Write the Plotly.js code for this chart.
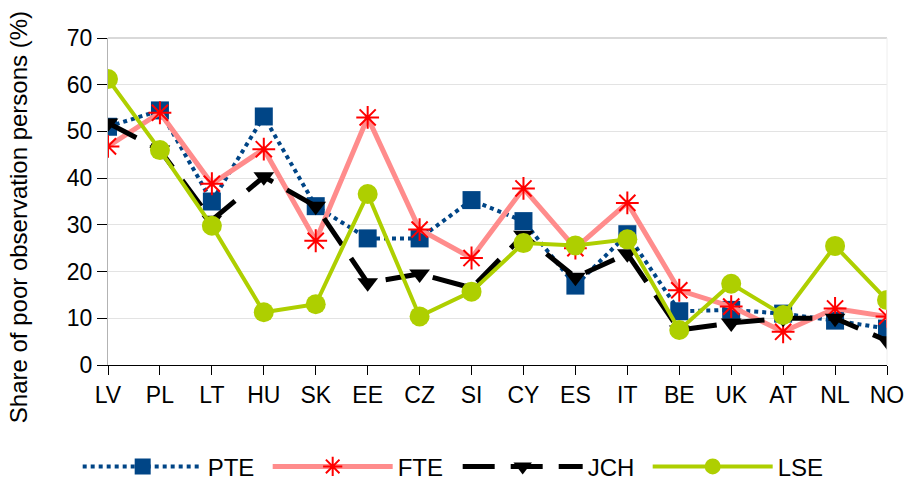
<!DOCTYPE html>
<html>
<head>
<meta charset="utf-8">
<script src="https://cdn.plot.ly/plotly-3.0.1.min.js"></script>
<style>html,body{margin:0;padding:0;background:#fff;}#chart{width:914px;height:494px;}</style>
</head>
<body>
<div id="chart"></div>
<script>
const countries = ["LV","PL","LT","HU","SK","EE","CZ","SI","CY","ES","IT","BE","UK","AT","NL","NO"];
const pte = [51, 54.5, 35, 53.2, 34, 27.1, 27.1, 35.3, 30.8, 17, 28, 11.5, 11.8, 11, 9.5, 7.8];
const fte = [46.8, 54, 38.8, 46.2, 26.6, 53, 29, 22.9, 37.8, 25, 34.7, 16, 12.5, 7.1, 12.1, 10.4];
const jch = [51.8, 46, 31, 40.3, 34, 17.6, 19.5, 16.5, 27.8, 18.8, 23.8, 7.5, 9, 10, 10, 5.2];
const lse = [61.2, 46, 29.8, 11.3, 13, 36.6, 10.4, 15.7, 26.1, 25.6, 26.9, 7.5, 17.4, 10.7, 25.5, 13.9];
const yTicks = [0,10,20,30,40,50,60,70];
const yTitle = "Share of poor observation persons (%)";

const font = "Liberation Sans, Arial, sans-serif";
const traces = [
  {x: countries, y: pte, name: "PTE", mode: "lines+markers",
   line: {color: "#004586", width: 4, dash: "dot"},
   marker: {symbol: "square", size: 18, color: "#004586"}},
  {x: countries, y: fte, name: "FTE", mode: "lines+markers",
   line: {color: "#ff8c8c", width: 5},
   marker: {symbol: "asterisk-open", size: 19, color: "#ff0000", line: {color: "#ff0000", width: 2}}},
  {x: countries, y: jch, name: "JCH", mode: "lines+markers",
   line: {color: "#000000", width: 5, dash: "32px,16px"},
   marker: {symbol: "triangle-down", size: 18, color: "#000000"}},
  {x: countries, y: lse, name: "LSE", mode: "lines+markers",
   line: {color: "#aecf00", width: 4},
   marker: {symbol: "circle", size: 20, color: "#aecf00"}}
];

const layout = {
  width: 914, height: 494,
  margin: {l: 108, r: 27, t: 38, b: 129},
  paper_bgcolor: "#ffffff", plot_bgcolor: "#ffffff",
  font: {family: font, size: 23, color: "#000"},
  showlegend: true,
  legend: {orientation: "h", x: 0.085, xref: "container", xanchor: "left", y: 0.055, yref: "container", yanchor: "middle",
           font: {family: font, size: 24, color: "#000"}, itemwidth: 120, entrywidth: 55, entrywidthmode: "pixels", tracegroupgap: 0},
  xaxis: {
    type: "category", categoryorder: "array", categoryarray: countries,
    range: [0, countries.length - 1],
    showgrid: false, zeroline: false,
    showline: true, linecolor: "#000", linewidth: 1,
    ticks: "outside", ticklen: 9, tickcolor: "#000", tickwidth: 1,
    tickfont: {family: font, size: 23, color: "#000"}
  },
  yaxis: {
    range: [0, 70], tickvals: yTicks,
    showgrid: true, gridcolor: "#e3e3e3", gridwidth: 1,
    zeroline: false,
    showline: true, linecolor: "#b3b3b3", linewidth: 1,
    ticks: "outside", ticklen: 10, tickcolor: "#000", tickwidth: 1,
    tickfont: {family: font, size: 23, color: "#000"}
  },
  annotations: [
    {text: yTitle, textangle: -90, xref: "paper", yref: "paper", x: -0.114, y: 0.4526,
     xanchor: "center", yanchor: "middle", showarrow: false,
     font: {family: font, size: 24, color: "#000"}}
  ],
  shapes: [
    {type: "line", xref: "paper", yref: "paper", x0: 0, x1: 1, y0: 1, y1: 1, line: {color: "#b3b3b3", width: 1}},
    {type: "line", xref: "paper", yref: "paper", x0: 1, x1: 1, y0: 0, y1: 1, line: {color: "#eeeeee", width: 1}}
  ]
};

Plotly.newPlot("chart", traces, layout, {displayModeBar: false, staticPlot: true});
</script>
</body>
</html>
